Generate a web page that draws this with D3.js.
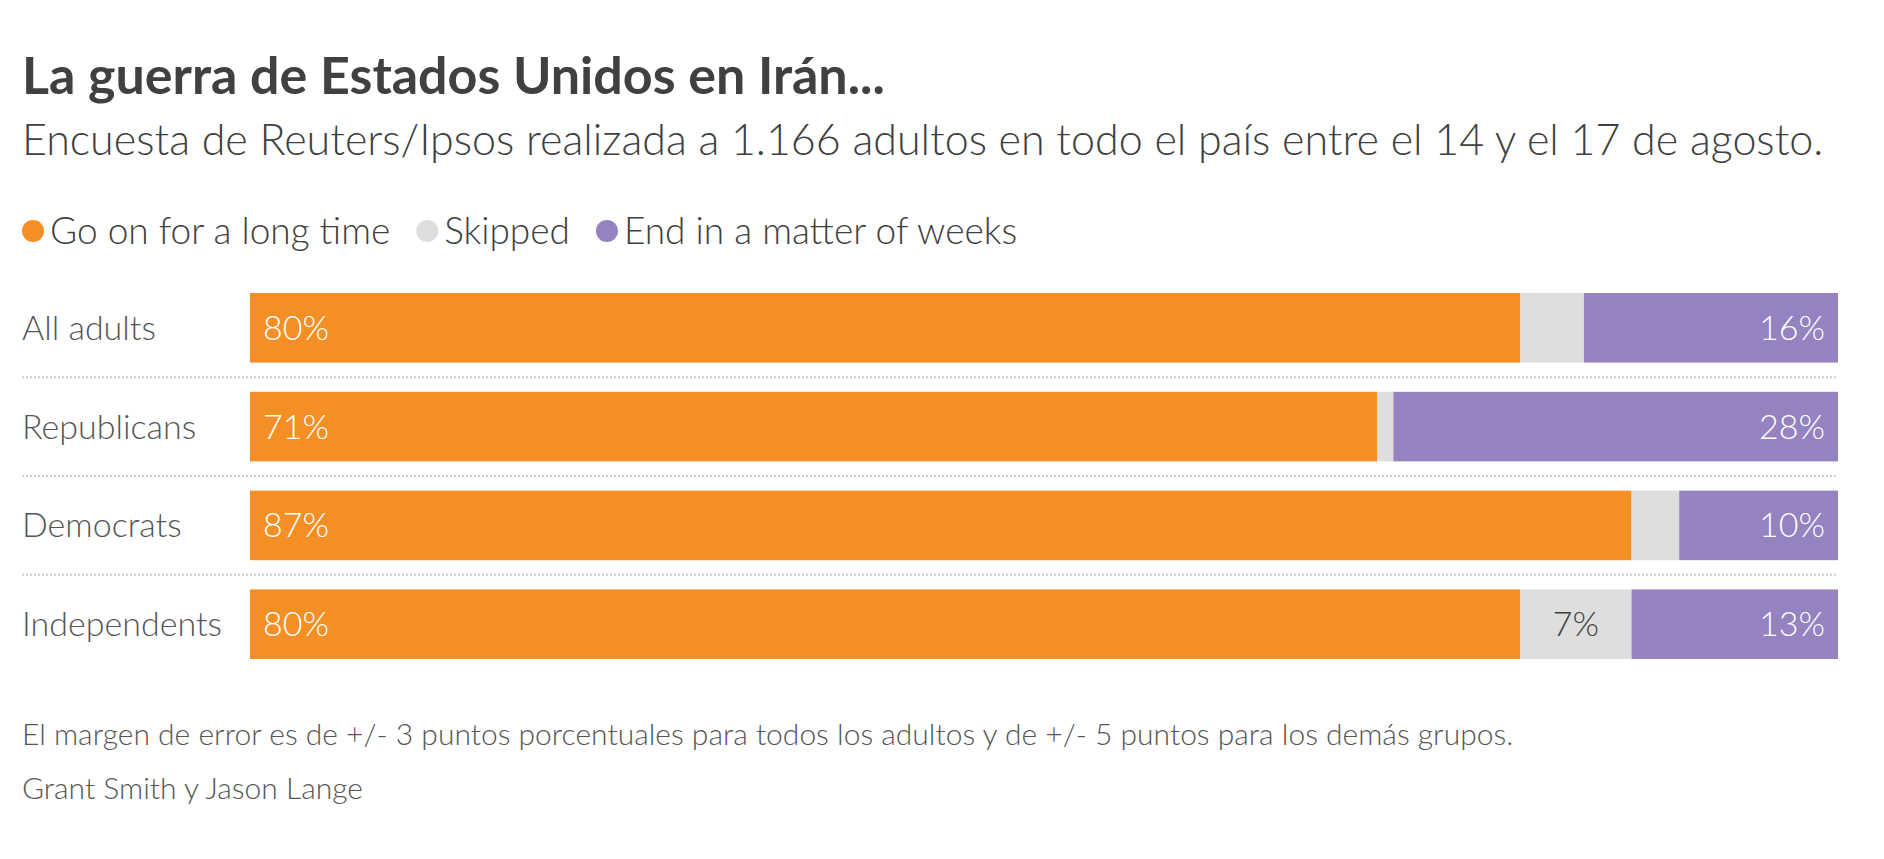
<!DOCTYPE html>
<html><head><meta charset="utf-8">
<script src="https://cdn.jsdelivr.net/npm/d3@7"></script>
<style>body{margin:0;background:#fff}text{font-family:Lato,sans-serif}</style>
</head><body><svg id="c" width="1884" height="859"></svg>
<script>
const groups = ['All adults', 'Republicans', 'Democrats', 'Independents'];
const longTime = [80, 71, 87, 80];
const skipped = [4, 1, 3, 7];
const weeks = [16, 28, 10, 13];
const seriesNames = ['Go on for a long time', 'Skipped', 'End in a matter of weeks'];
const colors = ['#f48f25', '#dedede', '#9582c0'];

const svg = d3.select('#c');
const ink = '#404040';

svg.append('text').attr('x', 22).attr('y', 94).attr('font-size', 52).attr('font-weight', 700)
  .attr('fill', ink).text('La guerra de Estados Unidos en Irán...');
svg.append('text').attr('x', 22).attr('y', 155).attr('font-size', 43).attr('font-weight', 300).attr('fill', ink)
  .text('Encuesta de Reuters/Ipsos realizada a 1.166 adultos en todo el país entre el 14 y el 17 de agosto.');

// legend
let lx = 22;
seriesNames.forEach((n, i) => {
  svg.append('circle').attr('cx', lx + 11).attr('cy', 231).attr('r', 11).attr('fill', colors[i]);
  const t = svg.append('text').attr('x', lx + 28).attr('y', 244).attr('font-size', 37).attr('font-weight', 300).attr('fill', ink).text(n);
  lx += 28 + t.node().getComputedTextLength() + 26;
});

const rows = groups.map((g, i) => ({g, vals: [longTime[i], skipped[i], weeks[i]]}));
const y = d3.scaleBand().domain(groups).range([293, 659]).paddingInner(0.296).paddingOuter(0);
const x = d3.scaleLinear().domain([0, 100]).range([250, 1838]);

groups.slice(1).forEach(g => {
  const yy = y(g) - y.step() * 0.296 / 2;
  svg.append('line').attr('x1', 22).attr('x2', 1838).attr('y1', yy).attr('y2', yy)
    .attr('stroke', '#ccc').attr('stroke-width', 2).attr('stroke-dasharray', '2,2');
});

rows.forEach(r => {
  const tot = d3.sum(r.vals);
  let acc = 0;
  const yb = y(r.g), h = y.bandwidth(), ty = yb + h / 2 + 12;
  svg.append('text').attr('x', 22).attr('y', ty).attr('font-size', 34).attr('font-weight', 300).attr('fill', '#555').text(r.g);
  r.vals.forEach((v, i) => {
    const x0 = x(acc / tot * 100), x1 = x((acc + v) / tot * 100);
    svg.append('rect').attr('x', x0).attr('y', yb).attr('width', x1 - x0).attr('height', h).attr('fill', colors[i]);
    const lab = svg.append('text').attr('y', ty).attr('font-size', 34).attr('font-weight', 300);
    if (i === 0) lab.attr('x', x0 + 13).attr('fill', '#fff').text(v + '%');
    if (i === 2) lab.attr('x', x1 - 13).attr('text-anchor', 'end').attr('fill', '#fff').text(v + '%');
    if (i === 1 && v >= 5) lab.attr('x', (x0 + x1) / 2).attr('text-anchor', 'middle').attr('fill', ink).text(v + '%');
    acc += v;
  });
});

svg.append('text').attr('x', 22).attr('y', 745).attr('font-size', 30).attr('font-weight', 300).attr('fill', '#555')
  .text('El margen de error es de +/- 3 puntos porcentuales para todos los adultos y de +/- 5 puntos para los demás grupos.');
svg.append('text').attr('x', 22).attr('y', 799).attr('font-size', 30).attr('font-weight', 300).attr('fill', '#555')
  .text('Grant Smith y Jason Lange');
</script></body></html>
